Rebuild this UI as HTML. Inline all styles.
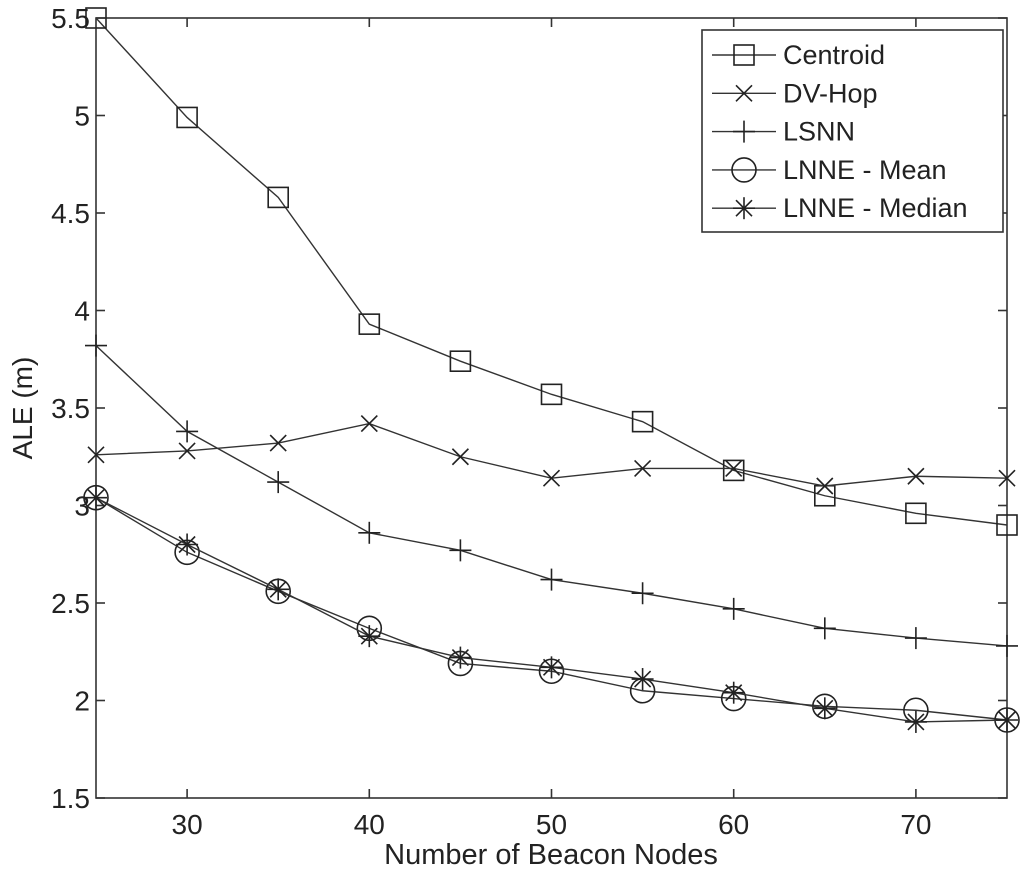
<!DOCTYPE html>
<html><head><meta charset="utf-8"><style>
body{margin:0;background:#fff}
svg text{font-family:"Liberation Sans",Arial,sans-serif;fill:#222}
</style></head><body>
<svg id="chart" width="1024" height="872" xmlns="http://www.w3.org/2000/svg">
<g id="plot"></g>
</svg>
<script>
const xVals=[25,30,35,40,45,50,55,60,65,70,75];
const centroid=[5.5,4.99,4.58,3.93,3.74,3.57,3.43,3.18,3.05,2.96,2.90];
const dvhop=[3.26,3.28,3.32,3.42,3.25,3.14,3.19,3.19,3.10,3.15,3.14];
const lsnn=[3.82,3.38,3.12,2.86,2.77,2.62,2.55,2.47,2.37,2.32,2.28];
const lnneMean=[3.04,2.76,2.56,2.37,2.19,2.15,2.05,2.01,1.97,1.95,1.90];
const lnneMedian=[3.04,2.80,2.57,2.33,2.22,2.17,2.11,2.04,1.96,1.89,1.90];
const xTicks=[30,40,50,60,70];
const yTicks=[1.5,2,2.5,3,3.5,4,4.5,5,5.5];
const seriesNames=["Centroid","DV-Hop","LSNN","LNNE - Mean","LNNE - Median"];

const L=96,R=1007,T=18,B=798;
const sx=v=>L+(v-25)/(75-25)*(R-L);
const sy=v=>B-(v-1.5)/(5.5-1.5)*(B-T);
const NS="http://www.w3.org/2000/svg";
const g=document.getElementById('plot');
function mk(tag,attrs,parent){const e=document.createElementNS(NS,tag);for(const k in attrs)e.setAttribute(k,attrs[k]);(parent||g).appendChild(e);return e;}
const st={stroke:"#333","stroke-width":1.6,fill:"none"};

let box=mk('rect',Object.assign({x:L,y:T,width:R-L,height:B-T},st));


xTicks.forEach(v=>{
  mk('line',Object.assign({x1:sx(v),x2:sx(v),y1:B,y2:B-9},st));
  mk('line',Object.assign({x1:sx(v),x2:sx(v),y1:T,y2:T+9},st));
  const t=mk('text',{x:sx(v),y:B+36,'text-anchor':'middle','font-size':28});t.textContent=v;
  
  
});
yTicks.forEach(v=>{
  mk('line',Object.assign({x1:L,x2:L+9,y1:sy(v),y2:sy(v)},st));
  mk('line',Object.assign({x1:R,x2:R-9,y1:sy(v),y2:sy(v)},st));
  const t=mk('text',{x:L-6,y:sy(v)+10,'text-anchor':'end','font-size':28});t.textContent=v;
  
  
});
let xl=mk('text',{x:551,y:864,'text-anchor':'middle','font-size':29});xl.textContent="Number of Beacon Nodes";


let yl=mk('text',{x:0,y:0,'text-anchor':'middle','font-size':28,transform:'translate(32,408) rotate(-90)'});yl.textContent="ALE (m)";



function marker(type,x,y,p){
  const s={stroke:"#222","stroke-width":1.6,fill:"none"};
  if(type==0)mk('rect',Object.assign({x:x-10,y:y-10,width:20,height:20},s),p);
  if(type==1){mk('line',Object.assign({x1:x-8,y1:y-8,x2:x+8,y2:y+8},s),p);mk('line',Object.assign({x1:x-8,y1:y+8,x2:x+8,y2:y-8},s),p);}
  if(type==2){mk('line',Object.assign({x1:x-11,y1:y,x2:x+11,y2:y},s),p);mk('line',Object.assign({x1:x,y1:y-11,x2:x,y2:y+11},s),p);}
  if(type==3)mk('circle',Object.assign({cx:x,cy:y,r:12},s),p);
  if(type==4){mk('line',Object.assign({x1:x-11,y1:y,x2:x+11,y2:y},s),p);mk('line',Object.assign({x1:x,y1:y-11,x2:x,y2:y+11},s),p);mk('line',Object.assign({x1:x-8,y1:y-8,x2:x+8,y2:y+8},s),p);mk('line',Object.assign({x1:x-8,y1:y+8,x2:x+8,y2:y-8},s),p);}
}
const allSeries=[centroid,dvhop,lsnn,lnneMean,lnneMedian];
const names=['centroid-series','dvhop-series','lsnn-series','lnne-mean-series','lnne-median-series'];
allSeries.forEach((d,i)=>{
  const sg=mk('g',{});
  
  
  mk('polyline',{points:d.map((v,j)=>sx(xVals[j])+','+sy(v)).join(' '),stroke:"#333","stroke-width":1.4,fill:"none"},sg);
  d.forEach((v,j)=>marker(i,sx(xVals[j]),sy(v),sg));
});
const lg=mk('g',{});


mk('rect',{x:702,y:30,width:301,height:202,fill:"#fff",stroke:"#333","stroke-width":1.6},lg);
seriesNames.forEach((n,i)=>{
  const y=55+i*38.3;
  const e=mk('g',{},lg);
  
  
  mk('line',{x1:712,x2:776,y1:y,y2:y,stroke:"#333","stroke-width":1.4},e);
  marker(i,744,y,e);
  const t=mk('text',{x:783,y:y+9,'font-size':27},e);t.textContent=n;
});
</script>
</body></html>
